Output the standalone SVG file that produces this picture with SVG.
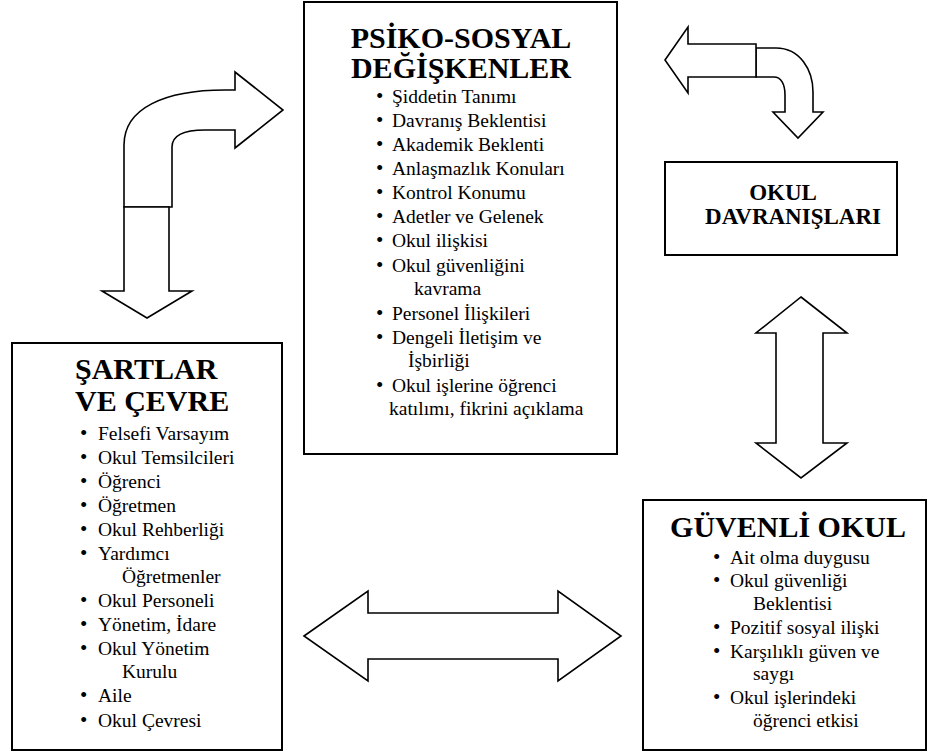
<svg xmlns="http://www.w3.org/2000/svg" width="930" height="754" viewBox="0 0 930 754">
  <style>
    .box { fill: #fff; stroke: #000; stroke-width: 2; }
    .arrow { fill: #fff; stroke: #000; stroke-width: 1.6; stroke-linejoin: miter; }
    .title { font-family: "Liberation Serif", "Times New Roman", serif; font-weight: bold; font-size: 30px; fill: #000; }
    .sub { font-family: "Liberation Serif", "Times New Roman", serif; font-weight: bold; font-size: 23px; fill: #000; }
    .item { font-family: "Liberation Serif", "Times New Roman", serif; font-size: 19.5px; fill: #000; }
    .dot { font-size: 21px; }
  </style>
  <rect width="930" height="754" fill="#fff"/>

  <g id="connectors">
    <!-- bent arrow: left column up and over to the top box -->
    <path class="arrow" d="M124,207 L124,145 C124,108 165,90 225,90 L235,90 L235,72 L283,110 L235,148 L235,130 L205,130 C185,130 172,135 172,147 L172,207 Z"/>
    <!-- down arrow into the left box -->
    <path class="arrow" d="M124,207 L169,207 L169,291 L192,291 L147,318 L102,291 L124,291 Z"/>
    <!-- curved piece from the top-right arrow, turning down -->
    <path class="arrow" d="M756,48 L776,48 C800,48 813,70 813,92 L813,112 L823,112 L798,138 L773,112 L785,112 L785,95 C785,84 781,77 774,77 L756,77 Z"/>
    <!-- left-pointing arrow towards the top box -->
    <path class="arrow" d="M665,60 L688,27 L688,44 L756,44 L756,77 L688,77 L688,93 Z"/>
    <!-- vertical double arrow -->
    <path class="arrow" d="M801,297 L847,333 L823,333 L823,443 L847,443 L801,478 L756,443 L776,443 L776,333 L756,333 Z"/>
    <!-- horizontal double arrow -->
    <path class="arrow" d="M304,636 L368,591 L368,613 L558,613 L558,591 L621,636 L558,681 L558,659 L368,659 L368,681 Z"/>
  </g>

  <g id="psiko-sosyal">
    <rect class="box" x="304" y="2" width="313" height="452"/>
    <text class="title" x="461" y="48" text-anchor="middle">PSİKO-SOSYAL</text>
    <text class="title" x="461" y="78" text-anchor="middle">DEĞİŞKENLER</text>
    <g class="item">
      <text class="dot" x="376" y="103">•</text><text x="392" y="103">Şiddetin Tanımı</text>
      <text class="dot" x="376" y="127">•</text><text x="392" y="127">Davranış Beklentisi</text>
      <text class="dot" x="376" y="151">•</text><text x="392" y="151">Akademik Beklenti</text>
      <text class="dot" x="376" y="175">•</text><text x="392" y="175">Anlaşmazlık Konuları</text>
      <text class="dot" x="376" y="199">•</text><text x="392" y="199">Kontrol Konumu</text>
      <text class="dot" x="376" y="223">•</text><text x="392" y="223">Adetler ve Gelenek</text>
      <text class="dot" x="376" y="247">•</text><text x="392" y="247">Okul ilişkisi</text>
      <text class="dot" x="376" y="272">•</text><text x="392" y="272">Okul güvenliğini</text>
      <text x="414" y="295">kavrama</text>
      <text class="dot" x="376" y="320">•</text><text x="392" y="320">Personel İlişkileri</text>
      <text class="dot" x="376" y="344">•</text><text x="392" y="344">Dengeli İletişim ve</text>
      <text x="408" y="367">İşbirliği</text>
      <text class="dot" x="376" y="392">•</text><text x="392" y="392">Okul işlerine öğrenci</text>
      <text x="389" y="415">katılımı, fikrini açıklama</text>
    </g>
  </g>

  <g id="okul-davranislari">
    <rect class="box" x="665" y="162" width="232" height="93"/>
    <text class="sub" x="783" y="200" text-anchor="middle">OKUL</text>
    <text class="sub" x="793" y="224" text-anchor="middle">DAVRANIŞLARI</text>
  </g>

  <g id="sartlar-ve-cevre">
    <rect class="box" x="12" y="343" width="270" height="407"/>
    <text class="title" x="75" y="379">ŞARTLAR</text>
    <text class="title" x="75" y="411">VE ÇEVRE</text>
    <g class="item">
      <text class="dot" x="80" y="440">•</text><text x="98" y="440">Felsefi Varsayım</text>
      <text class="dot" x="80" y="464">•</text><text x="98" y="464">Okul Temsilcileri</text>
      <text class="dot" x="80" y="488">•</text><text x="98" y="488">Öğrenci</text>
      <text class="dot" x="80" y="512">•</text><text x="98" y="512">Öğretmen</text>
      <text class="dot" x="80" y="536">•</text><text x="98" y="536">Okul Rehberliği</text>
      <text class="dot" x="80" y="560">•</text><text x="98" y="560">Yardımcı</text>
      <text x="122" y="583">Öğretmenler</text>
      <text class="dot" x="80" y="607">•</text><text x="98" y="607">Okul Personeli</text>
      <text class="dot" x="80" y="631">•</text><text x="98" y="631">Yönetim, İdare</text>
      <text class="dot" x="80" y="655">•</text><text x="98" y="655">Okul Yönetim</text>
      <text x="122" y="678">Kurulu</text>
      <text class="dot" x="80" y="702">•</text><text x="98" y="702">Aile</text>
      <text class="dot" x="80" y="727">•</text><text x="98" y="727">Okul Çevresi</text>
    </g>
  </g>

  <g id="guvenli-okul">
    <rect class="box" x="643" y="500" width="283" height="250"/>
    <text class="title" x="788" y="537" text-anchor="middle">GÜVENLİ OKUL</text>
    <g class="item">
      <text class="dot" x="713" y="564">•</text><text x="730" y="564">Ait olma duygusu</text>
      <text class="dot" x="713" y="587">•</text><text x="730" y="587">Okul güvenliği</text>
      <text x="753" y="610">Beklentisi</text>
      <text class="dot" x="713" y="634">•</text><text x="730" y="634">Pozitif sosyal ilişki</text>
      <text class="dot" x="713" y="658">•</text><text x="730" y="658">Karşılıklı güven ve</text>
      <text x="753" y="680">saygı</text>
      <text class="dot" x="713" y="704">•</text><text x="730" y="704">Okul işlerindeki</text>
      <text x="753" y="727">öğrenci etkisi</text>
    </g>
  </g>
</svg>
